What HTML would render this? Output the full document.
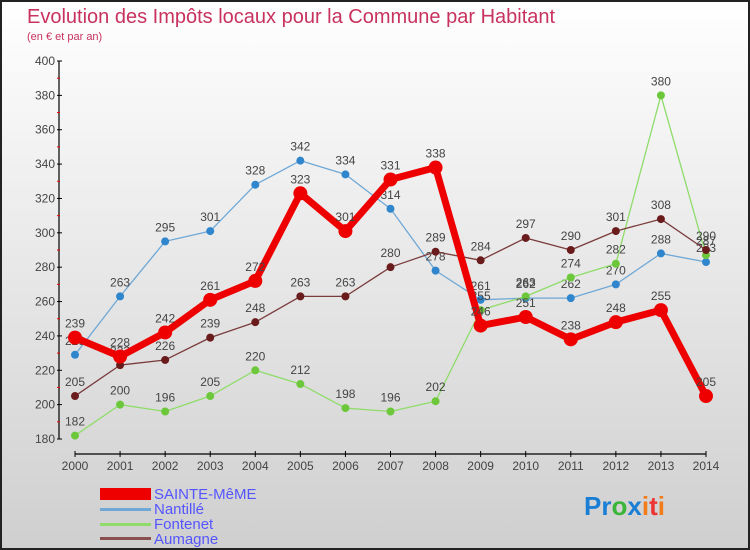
<!DOCTYPE html>
<html><head><meta charset="utf-8"><style>
body{margin:0}
#wrap{width:750px;height:550px;position:relative;overflow:hidden;font-family:"Liberation Sans",sans-serif}
</style></head><body>
<div id="wrap">
<svg id="svg" width="750" height="550" xmlns="http://www.w3.org/2000/svg">
<defs><linearGradient id="bg" x1="0" y1="0" x2="0" y2="1"><stop offset="0" stop-color="#ffffff"/><stop offset="1" stop-color="#cfcfcf"/></linearGradient></defs>
<rect x="1" y="1" width="748" height="548" fill="url(#bg)" stroke="#222" stroke-width="2"/>
<text x="27" y="23" font-size="20" fill="#c8325f">Evolution des Impôts locaux pour la Commune par Habitant</text>
<text x="27" y="40" font-size="11" fill="#c8325f">(en € et par an)</text>
<g id="axes"></g>
<g id="series"></g>
<g font-size="15" fill="#5555ff">
<rect x="100" y="488" width="51" height="12" fill="#e00"/>
<text x="154" y="499">SAINTE-MêME</text>
<rect x="100" y="508" width="51" height="3" fill="#6fa8d6"/>
<text x="154" y="514">Nantillé</text>
<rect x="100" y="523" width="51" height="3" fill="#8fdc6a"/>
<text x="154" y="529">Fontenet</text>
<rect x="100" y="537" width="51" height="3" fill="#8a5050"/>
<text x="154" y="544">Aumagne</text>
</g>
<g font-size="26" font-weight="bold">
<text x="584" y="515"><tspan fill="#1a7fd4">Pr</tspan><tspan fill="#3ab53a">o</tspan><tspan fill="#1a7fd4">x</tspan><tspan fill="#f07c1a">i</tspan><tspan fill="#e33">t</tspan><tspan fill="#f07c1a">i</tspan></text>
</g>
</svg>
</div>
<script>
const years=[2000,2001,2002,2003,2004,2005,2006,2007,2008,2009,2010,2011,2012,2013,2014];
const yTicks=[180,200,220,240,260,280,300,320,340,360,380,400];
const sainteMeme=[239,228,242,261,272,323,301,331,338,246,251,238,248,255,205];
const nantille=[229,263,295,301,328,342,334,314,278,261,262,262,270,288,283];
const fontenet=[182,200,196,205,220,212,198,196,202,255,263,274,282,380,287];
const aumagne=[205,223,226,239,248,263,263,280,289,284,297,290,301,308,290];
const NS='http://www.w3.org/2000/svg';
const x=i=>75+i*(706-75)/(years.length-1);
const y=v=>439-(v-180)*(439-61)/(400-180);
function mk(t,a,p){const e=document.createElementNS(NS,t);for(const k in a)e.setAttribute(k,a[k]);p.appendChild(e);return e;}
const ax=document.getElementById('axes');
let l=mk('line',{x1:59,y1:61,x2:59,y2:439,stroke:'#000','stroke-width':1.2},ax);


l=mk('line',{x1:75,y1:454,x2:706,y2:454,stroke:'#000','stroke-width':1.2},ax);


yTicks.forEach(v=>{
 mk('line',{x1:57,y1:y(v),x2:62,y2:y(v),stroke:'#000'},ax);
 if(v<400)mk('line',{x1:57,y1:y(v+10),x2:60,y2:y(v+10),stroke:'#e00'},ax);
 const t=mk('text',{x:55,y:y(v)+4,'text-anchor':'end','font-size':12,fill:'#444'},ax);
 t.textContent=v;
 
 
});
years.forEach((yr,i)=>{
 mk('line',{x1:x(i),y1:451,x2:x(i),y2:457,stroke:'#000'},ax);
 const t=mk('text',{x:x(i),y:470,'text-anchor':'middle','font-size':12,fill:'#444'},ax);
 t.textContent=yr;
 
 
});
const sg=document.getElementById('series');
function draw(vals,name,color,dot,lw,r){
 const g=mk('g',{},sg);
 
 
 const p=mk('polyline',{points:vals.map((v,i)=>x(i)+','+y(v)).join(' '),fill:'none',stroke:color,'stroke-width':lw,'stroke-linejoin':'round'},g);
 
 
 vals.forEach((v,i)=>{
  const c=mk('circle',{cx:x(i),cy:y(v),r:r,fill:dot},g);
  
  
  const t=mk('text',{x:x(i),y:y(v)-10,'text-anchor':'middle','font-size':12,fill:'#444'},g);
  t.textContent=v;
  
  
 });
}
draw(nantille,'nantille','#6fa8d6','#2f86cc',1.3,4);
draw(fontenet,'fontenet','#8fdc6a','#6cc83a',1.3,4);
draw(aumagne,'aumagne','#7a3b3b','#6a1c1c',1.3,4);
draw(sainteMeme,'sainte-meme','#ee0000','#ee0000',7,7);
</script>
</body></html>
